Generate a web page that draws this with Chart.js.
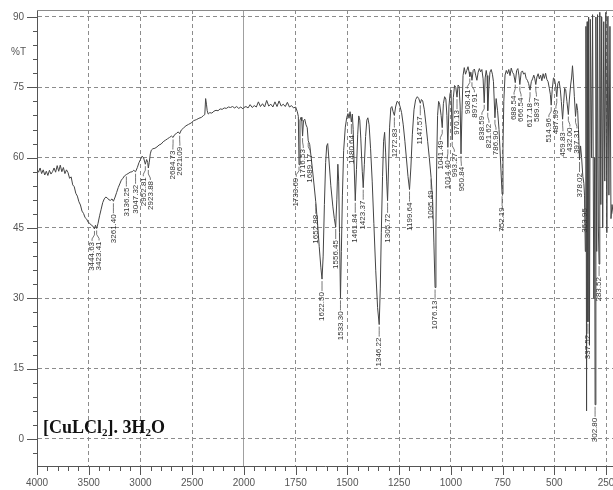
<!DOCTYPE html>
<html>
<head>
<meta charset="utf-8">
<script src="https://cdn.jsdelivr.net/npm/chart.js@4.4.0/dist/chart.umd.min.js"></script>
<style>
  body { margin: 0; background: #fff; }
  #wrap { width: 613px; height: 490px; }
</style>
</head>
<body>
<div id="wrap"><canvas id="myChart" width="613" height="490"></canvas></div>
<script>
// spectrum (wavenumber cm-1, %T)
var wavenumbers = [4000,3985,3970,3955,3940,3925,3910,3895,3880,3865,3850,3835,3820,3805,3790,3775,3760,3745,3730,3715,3700,3685,3670,3655,3640,3625,3610,3595,3580,3565,3550,3535,3520,3505,3490,3475,3460,3444.63,3435,3423.41,3410,3395,3380,3365,3350,3335,3320,3305,3290,3275,3261.40,3245,3230,3215,3200,3185,3170,3155,3136.25,3120,3100,3080,3065,3047.32,3030,3015,3000,2985,2970,2952.81,2940,2930,2923.88,2915,2905,2895,2880,2860,2840,2820,2800,2780,2760,2740,2720,2700,2684.73,2670,2650,2635,2621.09,2605,2585,2560,2535,2510,2485,2460,2435,2410,2390,2378,2370,2362,2355,2345,2330,2310,2290,2270,2250,2230,2210,2190,2170,2150,2130,2110,2090,2070,2050,2030,2010,2000,1990,1980,1970,1960,1950,1940,1930,1920,1910,1900,1890,1880,1870,1860,1850,1840,1830,1820,1810,1800,1790,1780,1770,1760,1750,1742,1737,1733.69,1729,1724,1720,1716.53,1712,1706,1700,1694,1689.17,1682,1672,1662,1652.88,1645,1636,1628,1622.50,1617,1611,1605,1600,1595,1589,1580,1570,1563,1556.45,1551,1546,1542,1538,1533.30,1529,1524,1518,1510,1503,1497,1492,1487,1480.64,1476,1472,1467,1461.84,1456,1450,1445,1440,1435,1428,1423.37,1418,1412,1406,1401,1395,1388,1380,1372,1363,1354,1346.22,1341,1336,1330,1325,1320,1315,1310,1305.72,1301,1296,1290,1285,1279,1272.83,1267,1260,1253,1246,1238,1230,1222,1214,1207,1199.64,1193,1186,1178,1170,1162,1155,1147.57,1142,1136,1128,1120,1112,1104,1095.49,1088,1082,1076.13,1072,1068,1064,1059,1054,1047,1041.49,1036,1030,1024,1019,1014.40,1009,1004,999,993.27,988,982,976,970.13,965,960,955,950.84,946,941,935,929,923,917,912,908.41,903,897.91,892,886,880,874,868,862,856,850,844,838.59,834,829,825,821.62,816,811,805,799,794,786.90,781,774,767,760,752.19,748,744,738,732,726,720,714,708,702,696,688.54,682,676,671,666.54,660,654,648,642,636,630,624,617.18,611,605,599,594,589.37,584,578,572,566,560,554,548,542,536,530,524,519,514.96,510,504,499,494,487.99,483,477,471,466,459.83,455,450,445,439,432.00,427,421,416,412,408,403,397.31,392,387,383,378.02,373,368,362,357,353.95,350,347,344,341,337.52,334,330,326,320,315,309,305,302.80,299,295,291,287,283.52,280,275,271,266,261,256,251,246,241,236,231,226,221,215];
var transmittance = [57.5,56.9,57.8,56.6,57.4,56.3,57.1,56.2,57.3,56.5,57.0,57.8,56.9,58.3,57.1,58.4,57.0,57.9,56.6,57.4,56.8,55.6,55.9,54.2,53.8,52.4,51.8,50.6,49.9,48.6,48.1,47.2,46.9,46.2,46.0,45.6,45.4,44.8,45.6,44.9,46.0,47.6,49.0,50.4,51.2,51.6,51.4,51.0,50.9,51.2,50.7,51.6,52.6,53.6,54.4,55.2,55.6,56.1,56.4,56.6,56.9,57.0,57.3,57.0,57.9,58.9,59.6,60.3,60.0,58.6,59.6,59.0,57.8,59.0,60.8,61.6,61.9,62.0,62.3,62.7,62.9,63.4,63.7,64.0,64.3,64.6,64.3,64.9,65.2,65.5,65.1,65.9,66.3,66.8,67.1,67.4,67.9,68.1,68.4,68.6,69.0,69.2,72.6,71.4,70.0,69.3,69.6,69.5,69.9,70.1,70.0,70.4,70.3,70.6,70.5,70.8,70.7,70.9,70.6,70.9,70.5,70.8,70.4,70.7,70.9,70.6,71.3,70.7,71.1,70.8,71.9,70.9,71.5,70.8,72.2,71.0,71.4,70.8,71.9,70.9,72.1,71.0,71.4,70.9,71.8,70.8,71.1,70.6,70.8,69.8,68.8,58.5,68.0,68.6,67.8,64.6,67.9,68.2,67.0,66.4,63.6,62.8,58.8,54.6,50.6,46.5,41.0,36.5,34.1,39.0,50.0,59.0,62.5,63.0,59.5,54.0,49.5,47.0,45.2,51.0,58.6,55.0,44.0,30.0,40.0,52.0,61.5,66.5,68.6,69.4,68.4,69.8,67.6,69.3,66.0,58.0,50.8,57.5,65.0,68.9,68.0,64.0,57.0,53.6,58.5,64.5,68.0,68.5,67.0,62.0,55.0,46.0,36.0,28.0,24.4,32.0,44.0,56.0,63.5,65.4,61.0,55.0,50.8,58.0,66.5,70.6,70.9,69.8,69.0,70.8,72.0,71.8,71.0,69.6,67.0,63.5,59.5,56.0,53.2,58.0,65.0,70.2,72.4,73.0,72.6,71.6,72.4,72.1,70.2,67.0,63.5,60.0,55.8,51.0,42.0,32.3,45.0,60.0,69.0,72.0,71.4,69.0,66.4,71.5,73.0,72.5,69.0,62.2,71.0,73.6,74.4,63.8,72.8,75.4,75.0,72.9,75.5,75.2,71.0,60.8,70.0,77.5,79.2,77.8,78.6,79.4,78.3,77.3,78.2,76.5,78.6,78.9,77.6,76.5,78.2,79.0,78.3,78.8,76.8,71.7,77.0,78.6,77.5,70.0,75.0,78.2,78.8,77.8,76.2,68.5,72.6,70.0,66.0,59.5,52.2,62.0,72.0,77.6,78.6,77.9,78.8,77.5,79.1,78.2,77.8,76.0,78.6,79.0,77.6,75.6,78.2,78.5,77.8,78.1,76.9,76.5,75.8,74.4,76.2,76.8,77.6,76.8,75.6,77.2,77.9,76.8,77.6,76.4,77.9,76.9,78.0,76.7,76.2,74.8,73.5,71.2,74.5,77.0,76.8,75.5,73.0,75.8,76.3,74.6,72.0,68.2,71.5,74.8,74.5,72.0,69.2,72.5,75.5,77.2,79.6,77.0,73.0,68.8,71.5,70.0,66.0,59.5,62.5,60.0,56.0,54.5,52.0,40.0,88.0,6.0,89.0,25.0,90.0,20.0,89.5,60.0,90.5,30.0,60.0,7.3,90.0,40.0,90.5,45.0,37.3,91.0,50.0,90.0,45.0,89.0,55.0,91.0,44.0,90.0,52.0,88.0,47.0,50.0,48.0];

var peakLabels = ["3444.63","3423.41","3261.40","3136.25","3047.32","2952.81","2923.88","2684.73","2621.09",
  "1733.69","1716.53","1689.17","1652.88","1622.50","1556.45","1533.30","1480.64","1461.84","1423.37",
  "1346.22","1305.72","1272.83","1199.64","1147.57","1095.49","1076.13","1041.49","1014.40","993.27",
  "970.13","950.84","908.41","897.91","838.59","821.62","786.90","752.19","688.54","666.54","617.18",
  "589.37","514.96","487.99","459.83","432.00","397.31","378.02","353.95","337.52","302.80","283.52"];

var xTickLabels = [4000,3500,3000,2500,2000,1750,1500,1250,1000,750,500,250];
var yTickLabels = [0,15,30,45,60,75,90];
var yAxisTitle = "%T";
var sampleName = ["[CuLCl", "2", "]. 3H", "2", "O"];

// the instrument halves the scale below 2000 cm-1
function pos(wn) {
    return wn >= 2000 ? (4000 - wn) / 500 : 4 + (2000 - wn) / 250;
}
function isInt(v) { return Math.abs(v - Math.round(v)) < 1e-6; }

var points = wavenumbers.map(function(w, i) { return {x: pos(w), y: transmittance[i]}; });

var decor = {
    id: 'decor',
    afterDraw: function(chart) {
        var ctx = chart.ctx, xs = chart.scales.x, ys = chart.scales.y, a = chart.chartArea;
        ctx.save();
        // top frame
        ctx.strokeStyle = '#8a8a8a';
        ctx.lineWidth = 1;
        ctx.beginPath(); ctx.moveTo(a.left, a.top + 0.5); ctx.lineTo(a.right, a.top + 0.5); ctx.stroke();
        // tick marks
        ctx.strokeStyle = '#555';
        ys.ticks.forEach(function(t) {
            var y = Math.round(ys.getPixelForValue(t.value)) + 0.5;
            var len = t.value % 15 === 0 ? 10 : 4;
            ctx.beginPath(); ctx.moveTo(a.left - len, y); ctx.lineTo(a.left, y); ctx.stroke();
        });
        xs.ticks.forEach(function(t) {
            var x = Math.round(xs.getPixelForValue(t.value)) + 0.5;
            var len = isInt(t.value) ? 9 : 5;
            ctx.beginPath(); ctx.moveTo(x, a.bottom); ctx.lineTo(x, a.bottom + len); ctx.stroke();
        });
        // axis title
        ctx.fillStyle = '#555';
        ctx.font = '10px "Liberation Sans", Arial';
        ctx.textAlign = 'left';
        ctx.textBaseline = 'middle';
        ctx.fillText(yAxisTitle, 11, ys.getPixelForValue(82.5));

        // peak labels
        var items = peakLabels.map(function(t) {
            var wn = parseFloat(t), best = 0;
            for (var i = 0; i < wavenumbers.length; i++) {
                if (Math.abs(wavenumbers[i] - wn) < Math.abs(wavenumbers[best] - wn)) best = i;
            }
            var px = xs.getPixelForValue(pos(wn)), py = ys.getPixelForValue(transmittance[best]);
            return {text: t, px: px, py: py, lx: px};
        });
        ctx.font = '8px "Liberation Sans", Arial';
        items.forEach(function(it) { it.w = ctx.measureText(it.text).width; });
        var gap = 7;
        for (var k = 0; k < 120; k++) {
            for (var i = 0; i < items.length; i++) {
                for (var j = i + 1; j < items.length; j++) {
                    var p = items[i], q = items[j];
                    var t1 = p.py + 12, t2 = q.py + 12;
                    if (t1 > t2 + q.w || t2 > t1 + p.w) continue;
                    var d = q.lx - p.lx;
                    if (Math.abs(d) < gap) {
                        var m = (gap - Math.abs(d)) / 2;
                        if (p.px <= q.px) { p.lx -= m; q.lx += m; } else { p.lx += m; q.lx -= m; }
                    }
                }
            }
        }
        ctx.strokeStyle = '#555';
        ctx.lineWidth = 0.8;
        ctx.fillStyle = '#333';
        items.forEach(function(it) {
            ctx.beginPath();
            ctx.moveTo(it.px, it.py + 2);
            ctx.lineTo(it.px, it.py + 6);
            ctx.lineTo(it.lx, it.py + 10);
            ctx.lineTo(it.lx, it.py + 12);
            ctx.stroke();
            ctx.save();
            ctx.translate(it.lx, it.py + 13);
            ctx.rotate(-Math.PI / 2);
            ctx.textAlign = 'right';
            ctx.textBaseline = 'middle';
            ctx.fillText(it.text, 0, 0);
            ctx.restore();
        });

        // sample name with subscripts
        var x = a.left + 6, y = a.bottom - 33;
        ctx.fillStyle = '#111';
        ctx.textAlign = 'left';
        ctx.textBaseline = 'alphabetic';
        sampleName.forEach(function(part, i) {
            var sub = i % 2 === 1;
            ctx.font = sub ? 'bold 11px "Liberation Serif"' : 'bold 18px "Liberation Serif"';
            ctx.fillText(part, x, sub ? y + 3 : y);
            x += ctx.measureText(part).width;
        });
        ctx.restore();
    }
};

var ctx = document.getElementById('myChart');
var myChart = new Chart(ctx, {
    type: 'line',
    data: {
        datasets: [{
            data: points,
            borderColor: '#444',
            borderWidth: 1,
            pointRadius: 0,
            fill: false,
            tension: 0
        }]
    },
    options: {
        responsive: false,
        animation: false,
        layout: { padding: { top: 10, right: 0, left: 0, bottom: 0 } },
        plugins: { legend: { display: false }, tooltip: { enabled: false } },
        scales: {
            x: {
                type: 'linear',
                min: 0,
                max: 11.135,
                afterBuildTicks: function(s) {
                    var t = [];
                    for (var i = 0; i <= 55; i++) t.push({value: i / 5});
                    s.ticks = t;
                },
                afterFit: function(s) { s.height = 24; s.paddingLeft = 0; s.paddingRight = 0; },
                ticks: {
                    autoSkip: false,
                    maxRotation: 0,
                    padding: 11,
                    color: '#555',
                    font: { family: '"Liberation Sans", Arial', size: 10 },
                    callback: function(v) {
                        if (!isInt(v)) return '';
                        var i = Math.round(v);
                        return xTickLabels[i] !== undefined ? String(xTickLabels[i]) : '';
                    }
                },
                grid: {
                    drawTicks: false,
                    lineWidth: 1,
                    color: function(c) {
                        if (!c.tick || !isInt(c.tick.value) || c.tick.value === 0) return 'rgba(0,0,0,0)';
                        return c.tick.value === 4 ? '#a0a0a0' : '#8c8c8c';
                    }
                },
                border: {
                    color: '#555',
                    dash: function(c) { return c.tick && c.tick.value === 4 ? [] : [4, 3]; }
                }
            },
            y: {
                min: -5.76,
                max: 91.49,
                afterBuildTicks: function(s) {
                    var t = [];
                    for (var v = -3; v <= 90; v += 3) t.push({value: v});
                    s.ticks = t;
                },
                afterFit: function(s) { s.width = 37; s.paddingTop = 0; s.paddingBottom = 0; },
                ticks: {
                    autoSkip: false,
                    padding: 13,
                    color: '#555',
                    font: { family: '"Liberation Sans", Arial', size: 10 },
                    callback: function(v) { return yTickLabels.indexOf(v) >= 0 ? String(v) : ''; }
                },
                grid: {
                    drawTicks: false,
                    lineWidth: 1,
                    color: function(c) {
                        return c.tick && yTickLabels.indexOf(c.tick.value) >= 0 ? '#8c8c8c' : 'rgba(0,0,0,0)';
                    }
                },
                border: { color: '#555', dash: [4, 3] }
            }
        }
    },
    plugins: [decor]
});
</script>
</body>
</html>
